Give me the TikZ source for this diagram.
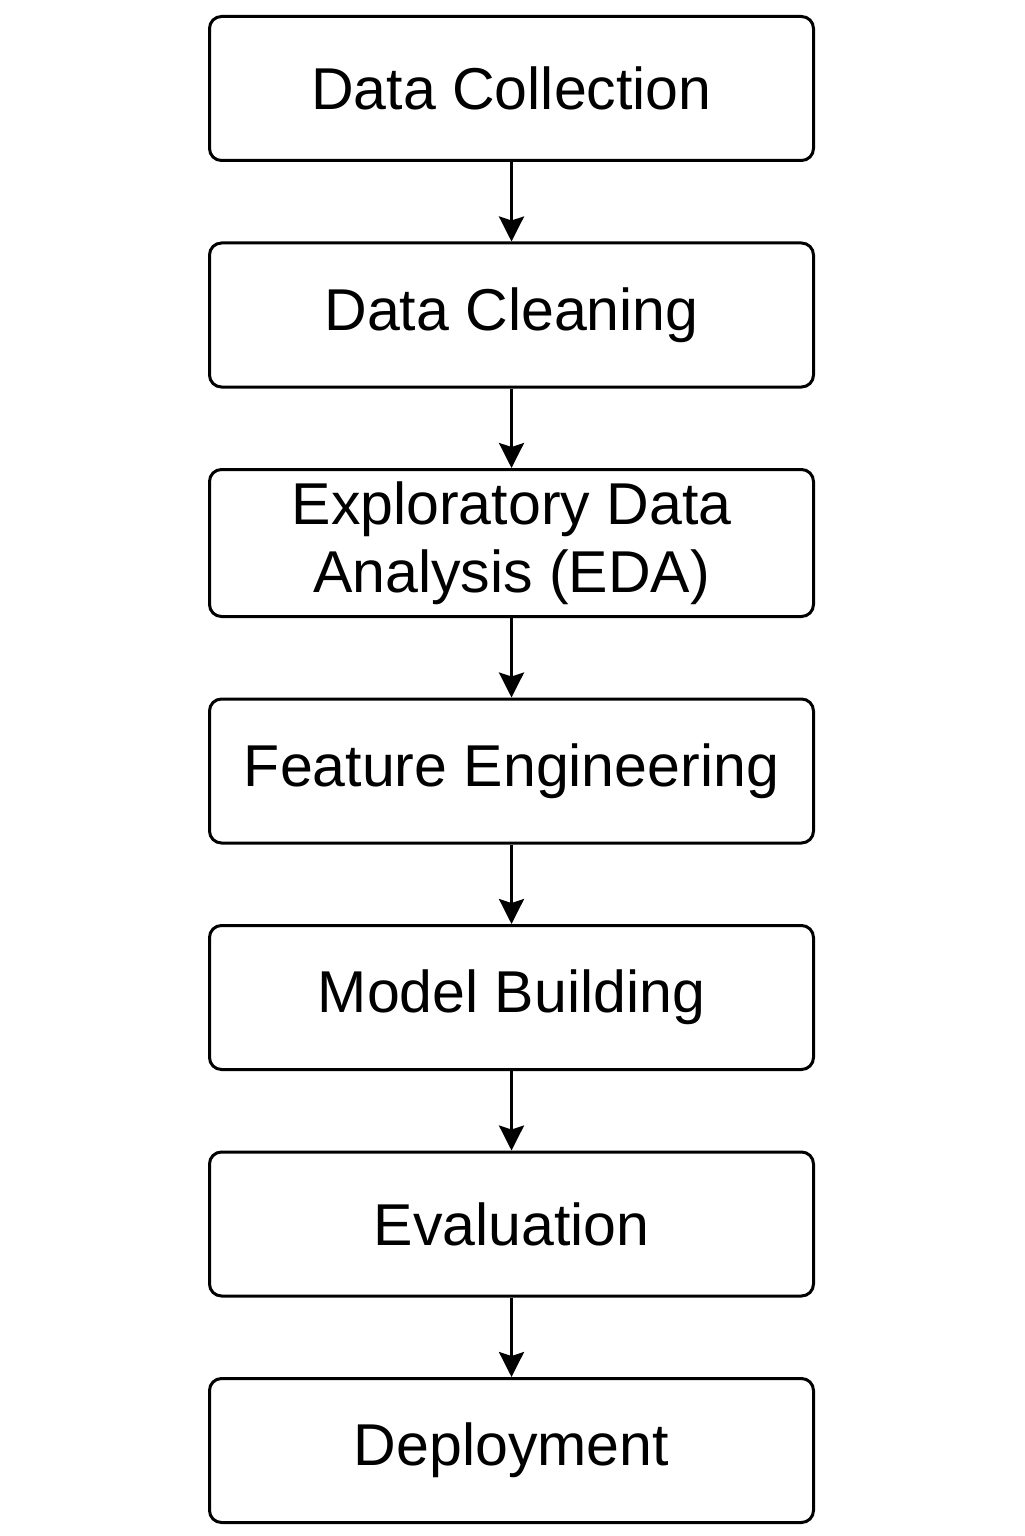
\documentclass[tikz,border=0pt]{standalone}
\usepackage{fontspec}
\setmainfont{Liberation Sans}
\usetikzlibrary{positioning,arrows.meta}

\begin{document}
\begin{tikzpicture}[
 stagebox/.style={draw,line width=0.03cm,rounded corners=0.12cm,minimum width=6.04cm,minimum height=1.44cm,align=center,font=\fontsize{16.8}{19.5}\selectfont},
 node distance=0.795cm
 ]
 \useasboundingbox (0,0) rectangle (10.24,-15.36); %画像の枠
 \node[stagebox] (collect) at (5.115,-0.885) {Data Collection}; %1段目
 \node[stagebox,below=of collect] (clean) {Data Cleaning};
 \node[stagebox,below=of clean] (eda) {Exploratory Data\\Analysis (EDA)};
 \node[stagebox,below=of eda] (feature) {Feature Engineering};
 \node[stagebox,below=of feature] (model) {Model Building};
 \node[stagebox,below=of model] (eval) {Evaluation};
 \node[stagebox,below=of eval] (deploy) {Deployment}; %最下段

 \draw[line width=0.03cm,-{Stealth[length=0.25cm,width=0.25cm,inset=0.04cm]}] (collect)--(clean);
 \draw[line width=0.03cm,-{Stealth[length=0.25cm,width=0.25cm,inset=0.04cm]}] (clean)--(eda);
 \draw[line width=0.03cm,-{Stealth[length=0.25cm,width=0.25cm,inset=0.04cm]}] (eda)--(feature);
 \draw[line width=0.03cm,-{Stealth[length=0.25cm,width=0.25cm,inset=0.04cm]}] (feature)--(model);
 \draw[line width=0.03cm,-{Stealth[length=0.25cm,width=0.25cm,inset=0.04cm]}] (model)--(eval);
 \draw[line width=0.03cm,-{Stealth[length=0.25cm,width=0.25cm,inset=0.04cm]}] (eval)--(deploy);
\end{tikzpicture}
\end{document}
